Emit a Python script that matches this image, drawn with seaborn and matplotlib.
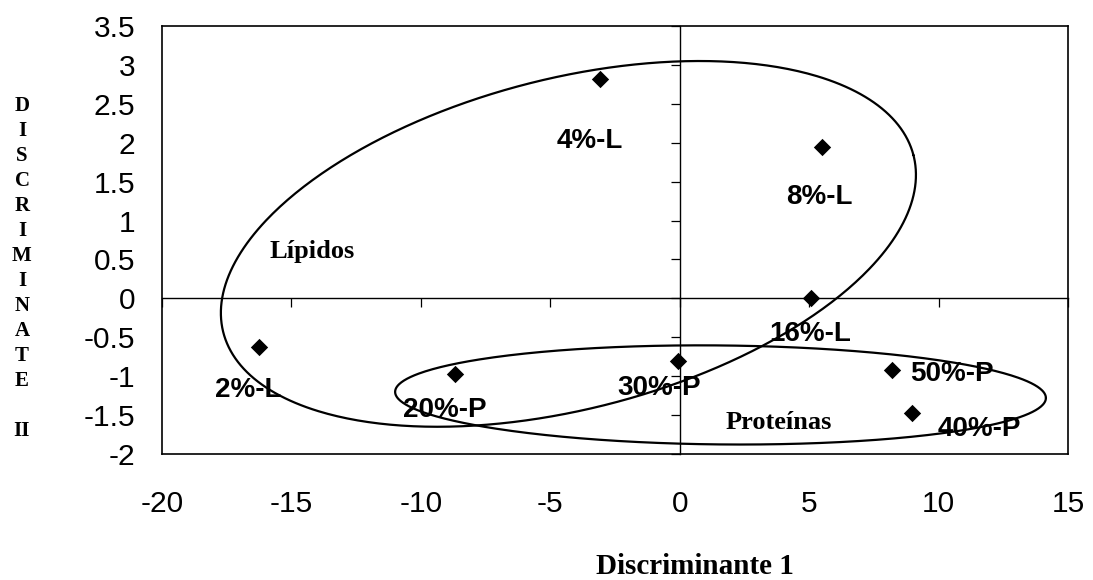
import numpy as np
import matplotlib
matplotlib.use("Agg")
import matplotlib.pyplot as plt
import seaborn as sns

# Sample scores on the two discriminant functions
samples = ["2%-L", "4%-L", "8%-L", "16%-L", "20%-P", "30%-P", "40%-P", "50%-P"]
disc1 = [-16.25, -3.08, 5.49, 5.06, -8.68, -0.05, 8.99, 8.20]
disc2 = [-0.62, 2.82, 1.95, 0.00, -0.97, -0.80, -1.47, -0.92]

x_ticks = [-20, -15, -10, -5, 0, 5, 10, 15]
y_ticks = [-2, -1.5, -1, -0.5, 0, 0.5, 1, 1.5, 2, 2.5, 3, 3.5]

# Group outlines: centre, cos-term and sin-term vectors (data units)
lipid_ellipse = dict(center=(-4.30, 0.70), u=(13.33, 1.140), v=(-1.60, 2.055))
protein_ellipse = dict(center=(1.576, -1.241), u=(12.57, -0.039), v=(0.0, 0.636))

# label offsets (points) relative to each marker
label_offsets = {
    "2%-L": (-8, -31), "4%-L": (-7, -45), "8%-L": (-2, -36), "16%-L": (-0.5, -26),
    "20%-P": (-7, -26), "30%-P": (-14, -20), "40%-P": (48, -11.5), "50%-P": (43, -3),
}

sns.set_style("white")
plt.rcParams["font.family"] = ["Liberation Sans", "DejaVu Sans"]
plt.rcParams["axes.unicode_minus"] = False
for key in ("text.color", "axes.labelcolor", "xtick.color", "ytick.color"):
    plt.rcParams[key] = "black"
SERIF = ["Liberation Serif", "DejaVu Serif"]

fig = plt.figure(figsize=(10.93, 5.80), dpi=100)
fig.patch.set_facecolor("white")
pos = [162 / 1093, 1 - 454 / 580, 906 / 1093, 428 / 580]

# axes crossing at zero, with their own tick marks
ax_zero = fig.add_axes(pos, zorder=0)
ax = fig.add_axes(pos, zorder=1)
ax.patch.set_alpha(0)
for a in (ax, ax_zero):
    a.set_xlim(-20, 15)
    a.set_ylim(-2, 3.5)

ax_zero.spines["left"].set_position(("data", 0))
ax_zero.spines["bottom"].set_position(("data", 0))
ax_zero.spines["top"].set_visible(False)
ax_zero.spines["right"].set_visible(False)
for s in ("left", "bottom"):
    ax_zero.spines[s].set_color("black")
    ax_zero.spines[s].set_linewidth(1.0)
ax_zero.set_xticks(x_ticks)
ax_zero.set_yticks(y_ticks)
ax_zero.tick_params(direction="out", length=6.5, width=0.9, color="black",
                    labelleft=False, labelbottom=False, left=True, bottom=True)

# outer frame and tick labels
for s in ax.spines.values():
    s.set_visible(True)
    s.set_color("black")
    s.set_linewidth(1.2)
ax.set_xticks(x_ticks)
ax.set_xticklabels([f"{v:g}" for v in x_ticks])
ax.set_yticks(y_ticks)
ax.set_yticklabels([f"{v:g}" for v in y_ticks])
ax.tick_params(axis="both", length=0, labelsize=21.5, colors="black")
ax.tick_params(axis="x", pad=26)
ax.tick_params(axis="y", pad=19)

# group ellipses
t = np.linspace(0, 2 * np.pi, 500)
for ell in (lipid_ellipse, protein_ellipse):
    cx, cy = ell["center"]
    ex = cx + ell["u"][0] * np.cos(t) + ell["v"][0] * np.sin(t)
    ey = cy + ell["u"][1] * np.cos(t) + ell["v"][1] * np.sin(t)
    sns.lineplot(x=ex, y=ey, sort=False, estimator=None, color="black",
                 linewidth=1.6, ax=ax, legend=False)

sns.scatterplot(x=disc1, y=disc2, marker="D", s=78, color="black",
                edgecolor="black", linewidth=0, ax=ax, legend=False, zorder=3)

for name, x, y in zip(samples, disc1, disc2):
    dx, dy = label_offsets[name]
    ax.annotate(name, (x, y), xytext=(dx, dy), textcoords="offset points",
                ha="center", va="center", fontsize=20, fontweight="bold",
                color="black")

ax.text(-14.2, 0.60, "Lípidos", family=SERIF, fontweight="bold", fontsize=19,
        ha="center", va="center")
ax.text(3.84, -1.60, "Proteínas", family=SERIF, fontweight="bold", fontsize=19,
        ha="center", va="center")

fig.text(695 / 1093, 1 - 566 / 580, "Discriminante 1", family=SERIF,
         fontweight="bold", fontsize=21, ha="center", va="center")
fig.text(22 / 1093, 1 - 268.5 / 580, "\n".join(list("DISCRIMINATE") + ["", "II"]),
         family=SERIF, fontweight="bold", fontsize=15, ha="center", va="center",
         multialignment="center", linespacing=1.33)

fig.savefig("out.png", dpi=100, facecolor="white")
